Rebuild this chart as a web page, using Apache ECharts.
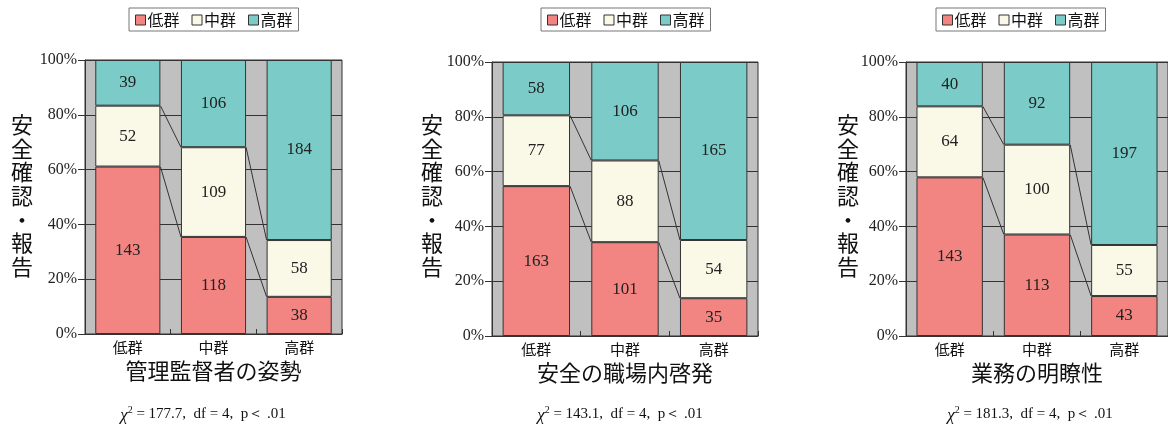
<!DOCTYPE html>
<html>
<head>
<meta charset="utf-8">
<script src="https://cdn.jsdelivr.net/npm/echarts@6/dist/echarts.min.js"></script>
<style>html,body{margin:0;padding:0;background:#fff}#c{width:1168px;height:426px}</style>
</head>
<body>
<div id="c"></div>
<script>
// ---- data ----
const categories = ['低群', '中群', '高群'];
const seriesNames = ['低群', '中群', '高群'];
const yTicks = [0, 20, 40, 60, 80, 100];
const panelTitles = ['管理監督者の姿勢', '安全の職場内啓発', '業務の明瞭性'];
const yTitle = '安全確認・報告';
const chiTexts = ['177.7', '143.1', '181.3'];
// counts per panel: [low, mid, high] group series across categories
const p1Low = [143, 118, 38];
const p1Mid = [52, 109, 58];
const p1High = [39, 106, 184];
const p2Low = [163, 101, 35];
const p2Mid = [77, 88, 54];
const p2High = [58, 106, 165];
const p3Low = [143, 113, 43];
const p3Mid = [64, 100, 55];
const p3High = [40, 92, 197];

const panels = [[p1Low, p1Mid, p1High], [p2Low, p2Mid, p2High], [p3Low, p3Mid, p3High]];
const colors = ['#f28482', '#faf8e6', '#7bccc8'];
const BAR_RATIO = 0.76;

const grids = [
  {left: 85, top: 60, width: 257, height: 274},
  {left: 492, top: 62, width: 266, height: 274},
  {left: 906, top: 62, width: 264, height: 274}
];
const legendLeft = [129, 541, 936];
const yTitleX = [22, 432, 848];
const chiX = [203, 620, 1030];

function pct(arrs) {
  const tot = categories.map((_, i) => arrs.reduce((s, a) => s + a[i], 0));
  return arrs.map(a => a.map((v, i) => v / tot[i] * 100));
}

const option = {
  animation: false,
  color: colors,
  grid: grids.map(g => Object.assign({show: true, backgroundColor: '#c0c0c0', borderColor: '#333', borderWidth: 1}, g)),
  legend: panels.map((_, k) => ({
    data: seriesNames, left: legendLeft[k], top: 8, orient: 'horizontal',
    itemWidth: 10, itemHeight: 10, itemGap: 12, icon: 'rect',
    borderColor: '#777', borderWidth: 1, padding: [4, 6, 3, 6],
    itemStyle: {borderColor: '#333', borderWidth: 1},
    textStyle: {fontFamily: 'Noto Sans CJK JP', fontSize: 16, color: '#111', padding: [0, 0, 0, -3]}
  })),
  xAxis: panels.map((_, k) => ({
    type: 'category', gridIndex: k, data: categories,
    axisLine: {lineStyle: {color: '#333'}},
    axisTick: {show: true, inside: true, length: 5, lineStyle: {color: '#333'}},
    axisLabel: {fontFamily: 'Noto Sans CJK JP', fontSize: 15, color: '#111', margin: 6},
    name: panelTitles[k], nameLocation: 'middle', nameGap: 26,
    nameTextStyle: {fontFamily: 'Noto Sans CJK JP', fontSize: 22, color: '#111'}
  })),
  yAxis: panels.map((_, k) => ({
    type: 'value', gridIndex: k, min: 0, max: 100, interval: 20,
    axisLine: {show: true, lineStyle: {color: '#333'}},
    axisTick: {show: true, length: 7, lineStyle: {color: '#333'}},
    splitLine: {lineStyle: {color: '#333', width: 1}},
    axisLabel: {formatter: '{value}%', fontFamily: 'Liberation Serif', fontSize: 16, color: '#222', margin: 8}
  })),
  series: [],
  graphic: []
};

panels.forEach((arrs, k) => {
  const p = pct(arrs);
  arrs.forEach((counts, s) => {
    option.series.push({
      type: 'bar', name: seriesNames[s], xAxisIndex: k, yAxisIndex: k, stack: 'p' + k,
      barWidth: (BAR_RATIO * 100) + '%',
      data: p[s],
      itemStyle: {color: colors[s], borderColor: '#333', borderWidth: 1},
      label: {show: true, position: 'inside', formatter: (prm) => String(counts[prm.dataIndex]),
        fontFamily: 'Liberation Serif', fontSize: 17, color: '#222'},
      emphasis: {disabled: true}
    });
  });
  // series-line connectors
  const conn = [];
  for (let i = 0; i < categories.length - 1; i++) {
    let c1 = 0, c2 = 0;
    for (let s = 0; s < 2; s++) {
      c1 += p[s][i]; c2 += p[s][i + 1];
      conn.push([i, c1, c2]);
    }
  }
  option.series.push({
    type: 'custom', xAxisIndex: k, yAxisIndex: k, data: conn, z: 5, silent: true,
    encode: {x: 0, y: [1, 2]},
    renderItem: function (params, api) {
      const i = api.value(0);
      const bw = api.size([1, 0])[0];
      const half = bw * BAR_RATIO / 2;
      const a = api.coord([i, api.value(1)]);
      const b = api.coord([i + 1, api.value(2)]);
      return {type: 'line', shape: {x1: a[0] + half, y1: a[1], x2: b[0] - half, y2: b[1]},
        style: {stroke: '#333', lineWidth: 1}};
    }
  });
  option.graphic.push({
    type: 'text', left: yTitleX[k] - 11, top: 113,
    style: {text: yTitle.split('').join('\n'), font: '22px "Noto Sans CJK JP"', fill: '#111', lineHeight: 23.6, align: 'center'}
  });
  option.graphic.push({
    type: 'text', x: chiX[k], y: 414,
    style: {
      text: '{chi|χ}{sup|2}{t| = ' + chiTexts[k] + ',  df = 4,  p＜ .01}',
      align: 'center', verticalAlign: 'middle',
      rich: {
        chi: {font: 'italic 17px "Liberation Serif"', fill: '#111', verticalAlign: 'middle', lineHeight: 18, padding: [3, 0, 0, 0]},
        sup: {font: '10px "Liberation Serif"', fill: '#111', verticalAlign: 'top', lineHeight: 18},
        t: {font: '15px "Liberation Serif"', fill: '#111', verticalAlign: 'middle', lineHeight: 18}
      }
    }
  });
});

const chart = echarts.init(document.getElementById('c'), null, {renderer: 'canvas'});
chart.setOption(option);
</script>
</body>
</html>
